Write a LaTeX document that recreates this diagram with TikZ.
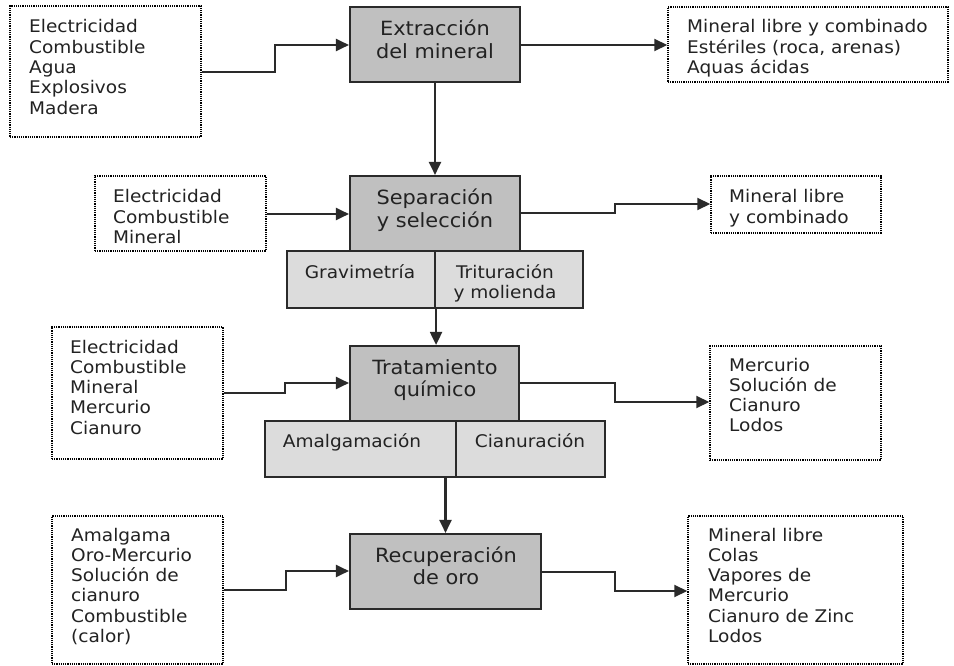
\documentclass[tikz,border=0pt]{standalone}
\usepackage{fontspec}
\setmainfont{DejaVu Sans}[FakeStretch=1.065]
\usetikzlibrary{arrows.meta}
\definecolor{mainfill}{HTML}{C0C0C0}
\definecolor{subfill}{HTML}{DCDCDC}
\definecolor{ink}{HTML}{2A2A2A}
\definecolor{txtc}{HTML}{222222}
\newcommand\lns[2]{\begin{tabular}[t]{@{}#1@{}}#2\end{tabular}}
\begin{document}
\begin{tikzpicture}[x=1pt,y=-1pt,
  mainbox/.style={draw=ink, line width=2.1pt, fill=mainfill, inner sep=0pt},
  subbox/.style={draw=ink, line width=2.1pt, fill=subfill, inner sep=0pt},
  dotbox/.style={draw=black, line width=1.5pt, dash pattern=on 1.2pt off 1pt, inner sep=0pt},
  smalltxt/.style={inner sep=0pt, text=txtc, font=\fontsize{17.4}{20.3}\selectfont, anchor=base west},
  subtxt/.style={inner sep=0pt, text=txtc, font=\fontsize{17.4}{20.3}\selectfont, anchor=base},
  bigtxt/.style={inner sep=0pt, text=txtc, font=\fontsize{19.6}{22.5}\selectfont, anchor=base},
  arr/.style={draw=ink, line width=2.1pt, -{Triangle[length=13pt,width=12pt]}},
  ln/.style={draw=ink, line width=2.1pt}]
\useasboundingbox[fill=white] (0,0) rectangle (954,666);

% main process boxes
\node[mainbox, minimum width=170pt, minimum height=75pt] (ext) at (435,44.5) {};
\node[mainbox, minimum width=170pt, minimum height=75pt] (sep) at (435,213.5) {};
\node[mainbox, minimum width=169pt, minimum height=75pt] (tra) at (434.5,383.5) {};
\node[mainbox, minimum width=191pt, minimum height=75pt] (rec) at (445.5,571.5) {};
\node[bigtxt] (extT) at (435,36) {\lns{c}{Extracción\\del mineral}};
\node[bigtxt] (sepT) at (435,205) {\lns{c}{Separación\\y selección}};
\node[bigtxt] (traT) at (435,374) {\lns{c}{Tratamiento\\químico}};
\node[bigtxt] (recT) at (446,562) {\lns{c}{Recuperación\\de oro}};

% sub boxes
\node[subbox, minimum width=148pt, minimum height=57pt] (sg) at (361,279.5) {};
\node[subbox, minimum width=148pt, minimum height=57pt] (st) at (509,279.5) {};
\node[subbox, minimum width=191pt, minimum height=56pt] (ta) at (360.5,449) {};
\node[subbox, minimum width=149pt, minimum height=56pt] (tc) at (530.5,449) {};
\node[subtxt] (sgT) at (360,278) {Gravimetría};
\node[subtxt] (stT) at (505,278) {\lns{c}{Trituración\\y molienda}};
\node[subtxt] (taT) at (352,447) {Amalgamación};
\node[subtxt] (tcT) at (530,447) {Cianuración};

% dotted input/output boxes
\node[dotbox, minimum width=191pt, minimum height=131pt] (inA) at (105.5,71.5) {};
\node[dotbox, minimum width=280pt, minimum height=75pt] (outA) at (808,44.5) {};
\node[dotbox, minimum width=171pt, minimum height=75pt] (inB) at (180.5,213.5) {};
\node[dotbox, minimum width=170pt, minimum height=57pt] (outB) at (796,204.5) {};
\node[dotbox, minimum width=171pt, minimum height=132pt] (inC) at (137.5,393) {};
\node[dotbox, minimum width=171pt, minimum height=114pt] (outC) at (795.5,403) {};
\node[dotbox, minimum width=171pt, minimum height=148pt] (inD) at (137.5,590) {};
\node[dotbox, minimum width=215pt, minimum height=148pt] (outD) at (795.5,590) {};

\node[smalltxt] (inAT) at (29,33) {\lns{l}{Electricidad\\Combustible\\Agua\\Explosivos\\Madera}};
\node[smalltxt] (outAT) at (687,33) {\lns{l}{Mineral libre y combinado\\Estériles (roca, arenas)\\Aquas ácidas}};
\node[smalltxt] (inBT) at (113,203) {\lns{l}{Electricidad\\Combustible\\Mineral}};
\node[smalltxt] (outBT) at (729,203) {\lns{l}{Mineral libre\\y combinado}};
\node[smalltxt] (inCT) at (70,353) {\lns{l}{Electricidad\\Combustible\\Mineral\\Mercurio\\Cianuro}};
\node[smalltxt] (outCT) at (729,371) {\lns{l}{Mercurio\\Solución de\\Cianuro\\Lodos}};
\node[smalltxt] (inDT) at (71,541) {\lns{l}{Amalgama\\Oro-Mercurio\\Solución de\\cianuro\\Combustible\\(calor)}};
\node[smalltxt] (outDT) at (708,541) {\lns{l}{Mineral libre\\Colas\\Vapores de\\Mercurio\\Cianuro de Zinc\\Lodos}};

% connectors
\draw[arr] (inA.east |- 0,72) -- (275,72) -- (275,45) -- (ext.west |- 0,45);
\draw[arr] (ext.east |- 0,45) -- (outA.west |- 0,45);
\draw[arr] (ext.south) -- (sep.north);
\draw[arr] (inB.east |- 0,214) -- (sep.west |- 0,214);
\draw[arr] (sep.east |- 0,213) -- (615,213) -- (615,204) -- (outB.west |- 0,204);
\draw[arr] (sg.south east) -- (sg.south east |- tra.north);
\draw[arr] (inC.east |- 0,393) -- (285,393) -- (285,383) -- (tra.west |- 0,383);
\draw[arr] (tra.east |- 0,383) -- (615,383) -- (615,402) -- (outC.west |- 0,402);
\draw[arr] (rec.north |- ta.south) -- (rec.north);
\draw[arr] (inD.east |- 0,590) -- (286,590) -- (286,571) -- (rec.west |- 0,571);
\draw[arr] (rec.east |- 0,572) -- (615,572) -- (615,591) -- (outD.west |- 0,591);
\end{tikzpicture}
\end{document}
